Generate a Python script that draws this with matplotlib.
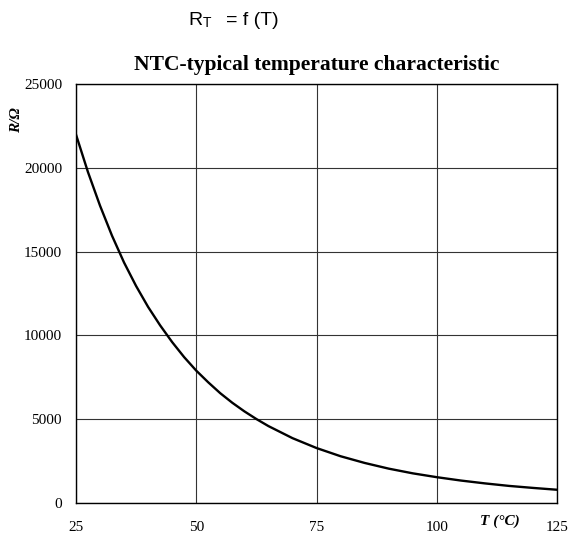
import matplotlib.pyplot as plt

# NTC resistance vs temperature
temp_c = [25, 27.5, 30, 32.5, 35, 37.5, 40, 42.5, 45, 47.5, 50, 52.5, 55, 57.5, 60,
          62.5, 65, 70, 75, 80, 85, 90, 95, 100, 105, 110, 115, 120, 125]
resistance = [22000, 19750, 17750, 15950, 14350, 12950, 11700, 10600, 9600, 8700,
              7900, 7200, 6550, 5980, 5470, 5010, 4590, 3870, 3280, 2790, 2390,
              2050, 1770, 1540, 1340, 1170, 1020, 900, 790]

x_ticks = [25, 50, 75, 100, 125]
y_ticks = [0, 5000, 10000, 15000, 20000, 25000]

serif = ['Liberation Serif', 'DejaVu Serif']
sans = ['Liberation Sans', 'DejaVu Sans']

fig = plt.figure(figsize=(5.75, 5.37), dpi=100)
ax = fig.add_axes([0.132, 0.0633, 0.837, 0.7803])

ax.plot(temp_c, resistance, color='black', lw=1.7)
ax.set_xlim(25, 125)
ax.set_ylim(0, 25000)
ax.set_xticks(x_ticks)
ax.set_yticks(y_ticks)
ax.set_xticklabels([str(t) for t in x_ticks], family=serif, fontsize=11)
ax.set_yticklabels([str(v) for v in y_ticks], family=serif, fontsize=11)
ax.tick_params(axis='y', length=0, pad=10)
ax.tick_params(axis='x', length=0, pad=13)
ax.grid(True, color='#333333', lw=0.8)
for s in ax.spines.values():
    s.set_linewidth(1.0)

ax.set_title('NTC-typical temperature characteristic', family=serif,
             fontweight='bold', fontsize=15.5, pad=10)

fig.text(0.870, 0.030, 'T (°C)', family=serif, fontweight='bold',
         style='italic', fontsize=11, ha='center', va='center')
fig.text(0.029, 0.777, 'R/Ω', family=serif, fontweight='bold',
         style='italic', fontsize=11, ha='center', va='center', rotation=90)

# header line with subscript
fig.text(0.327, 0.962, 'R', family=sans, fontsize=14, va='center')
fig.text(0.352, 0.958, 'T', family=sans, fontsize=10, va='center')
fig.text(0.393, 0.962, '= f (T)', family=sans, fontsize=14, va='center')

fig.savefig('out.png', dpi=100)
